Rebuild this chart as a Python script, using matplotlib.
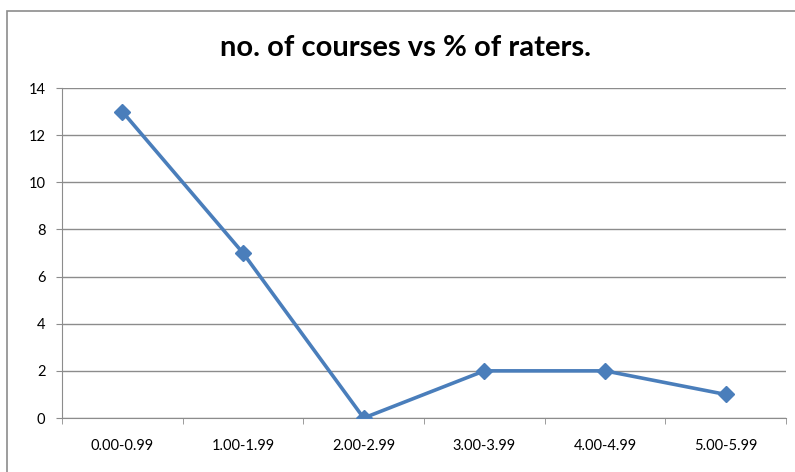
import matplotlib
matplotlib.use("Agg")
import matplotlib.pyplot as plt
from matplotlib.patches import Rectangle

# data
categories = ["0.00-0.99", "1.00-1.99", "2.00-2.99", "3.00-3.99", "4.00-4.99", "5.00-5.99"]
courses = [13, 7, 0, 2, 2, 1]
y_ticks = [0, 2, 4, 6, 8, 10, 12, 14]

plt.rcParams['font.family'] = ['Lato', 'DejaVu Sans']

fig = plt.figure(figsize=(7.95, 4.72), dpi=100)
ax = fig.add_axes([62 / 795, 1 - 418 / 472, (786 - 62) / 795, (418 - 88) / 472])

# outer chart border, running off the right and bottom edges
fig.patches.append(Rectangle((7 / 795, -0.05), 1.0, 1 - 11 / 472 + 0.05,
                             transform=fig.transFigure, fill=False,
                             edgecolor="#8c8c8c", linewidth=1.2))

x = list(range(len(categories)))
ax.plot(x, courses, color="#4a7ebb", linewidth=2.6, marker="D", markersize=8,
        markeredgecolor="#4a7ebb", markerfacecolor="#4a7ebb", zorder=3)

ax.set_xlim(-0.5, len(categories) - 0.5)
ax.set_ylim(0, 14)
ax.set_yticks(y_ticks)
ax.set_xticks(x)
ax.set_xticklabels(categories)
ax.set_xticks([i - 0.5 for i in range(len(categories) + 1)], minor=True)

ax.grid(axis="y", color="#8c8c8c", linewidth=1)
ax.set_axisbelow(True)
for side in ["top", "right"]:
    ax.spines[side].set_visible(False)
for side in ["left", "bottom"]:
    ax.spines[side].set_color("#8c8c8c")

ax.tick_params(axis="x", which="major", length=0, pad=15, labelsize=10.5)
ax.tick_params(axis="x", which="minor", length=4, color="#8c8c8c")
ax.tick_params(axis="y", length=4, color="#8c8c8c", pad=8, labelsize=10.5)

fig.text(406 / 795, 1 - 48 / 472, "no. of courses vs % of raters.", ha="center", va="center",
         fontsize=21, fontweight="bold")

fig.savefig("out.png", dpi=100)
